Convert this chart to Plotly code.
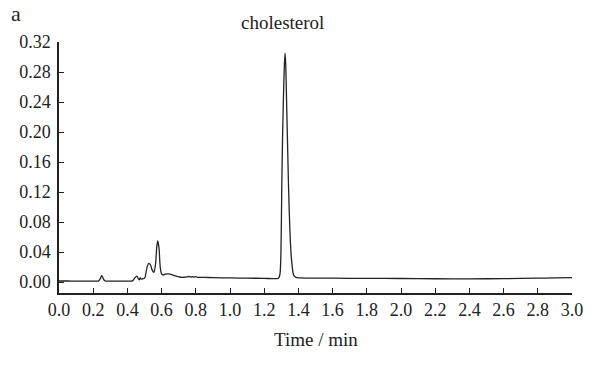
import plotly.graph_objects as go

# Chromatogram data
time_min = [
    0.00, 0.05, 0.10, 0.15, 0.20, 0.23, 0.24, 0.25, 0.26, 0.27, 0.30, 0.35, 0.40,
    0.43, 0.445, 0.455, 0.465, 0.47, 0.475, 0.48, 0.49, 0.50, 0.505, 0.515, 0.525,
    0.535, 0.545, 0.555, 0.565, 0.572, 0.578, 0.585, 0.592, 0.60, 0.61, 0.62, 0.635,
    0.65, 0.67, 0.69, 0.71, 0.73, 0.75, 0.76, 0.77, 0.78, 0.79, 0.80, 0.81, 0.85,
    0.90, 1.00, 1.10, 1.20, 1.28, 1.288, 1.293, 1.298, 1.303, 1.308, 1.313, 1.318,
    1.322, 1.326, 1.330, 1.336, 1.342, 1.350, 1.358, 1.365, 1.371, 1.38, 1.39,
    1.45, 1.60, 1.80, 2.00, 2.20, 2.40, 2.60, 2.80, 2.90, 3.00,
]
absorbance = [
    0.0015, 0.0015, 0.0014, 0.0013, 0.0013, 0.0014, 0.004, 0.009, 0.004, 0.0015,
    0.0013, 0.0013, 0.0014, 0.0016, 0.006, 0.008, 0.004, 0.003, 0.006, 0.004,
    0.0045, 0.005, 0.008, 0.020, 0.025, 0.023, 0.016, 0.013, 0.025, 0.048, 0.055,
    0.045, 0.020, 0.011, 0.0095, 0.0105, 0.011, 0.0105, 0.009, 0.0075, 0.0065,
    0.0065, 0.007, 0.0075, 0.0068, 0.0074, 0.0066, 0.0072, 0.0064, 0.0063, 0.006,
    0.0056, 0.0053, 0.005, 0.0048, 0.007, 0.012, 0.04, 0.13, 0.20, 0.25, 0.29,
    0.305, 0.29, 0.25, 0.19, 0.13, 0.07, 0.035, 0.018, 0.010, 0.007, 0.006,
    0.0054, 0.0052, 0.005, 0.0048, 0.0045, 0.0044, 0.0046, 0.0052, 0.0057, 0.006,
]

y_ticks = [0.00, 0.04, 0.08, 0.12, 0.16, 0.20, 0.24, 0.28, 0.32]
y_tick_labels = ["0.00", "0.04", "0.08", "0.12", "0.16", "0.20", "0.24", "0.28", "0.32"]
x_ticks = [0.0, 0.2, 0.4, 0.6, 0.8, 1.0, 1.2, 1.4, 1.6, 1.8, 2.0, 2.2, 2.4, 2.6, 2.8, 3.0]
x_tick_labels = [f"{v:.1f}" for v in x_ticks]

peak_label = "cholesterol"
peak_time = 1.307
x_title = "Time / min"
panel_label = "a"

FONT = "Liberation Serif, Times New Roman, serif"
INK = "#222222"
W, H = 595, 376
ML, MR, MT, MB = 59, 16, 42, 83
plot_w = W - ML - MR
plot_h = H - MT - MB


def px_x(px):
    return (px - ML) / plot_w


def px_y(py):
    return (H - MB - py) / plot_h


fig = go.Figure(
    go.Scatter(
        x=time_min, y=absorbance, mode="lines",
        line=dict(color=INK, width=1.3, shape="spline", smoothing=0.6),
        hoverinfo="skip", showlegend=False,
    )
)

axis_common = dict(
    ticks="inside", ticklen=5, tickwidth=1.2, tickcolor=INK,
    showline=True, linecolor=INK, linewidth=1.5,
    showgrid=False, zeroline=False,
    tickfont=dict(family=FONT, size=18, color=INK),
)

fig.update_layout(
    width=W, height=H, autosize=False,
    margin=dict(l=ML, r=MR, t=MT, b=MB),
    paper_bgcolor="white", plot_bgcolor="white",
    font=dict(family=FONT, size=18, color=INK),
    xaxis=dict(range=[0, 3.0], tickvals=x_ticks, ticktext=x_tick_labels,
               ticklabelstandoff=0, **axis_common),
    yaxis=dict(range=[-0.0145, 0.32], tickvals=y_ticks, ticktext=y_tick_labels,
               ticklabelstandoff=3, **axis_common),
    annotations=[
        dict(text=peak_label, x=peak_time, xref="x", y=px_y(22), yref="paper",
             yanchor="middle", xanchor="center", showarrow=False,
             font=dict(family=FONT, size=19, color=INK)),
        dict(text=x_title, x=0.5, xref="paper", y=px_y(339), yref="paper",
             xanchor="center", yanchor="middle", showarrow=False,
             font=dict(family=FONT, size=19, color=INK)),
        dict(text=panel_label, x=px_x(15), xref="paper", y=px_y(13), yref="paper",
             xanchor="center", yanchor="middle", showarrow=False,
             font=dict(family=FONT, size=22, color=INK)),
    ],
)

# remove the browser's default 8px page margin so the figure fills the window
fig.write_html(
    "out.html",
    config={"displayModeBar": False},
    post_script="document.body.style.margin='0';document.body.style.overflow='hidden';",
)
